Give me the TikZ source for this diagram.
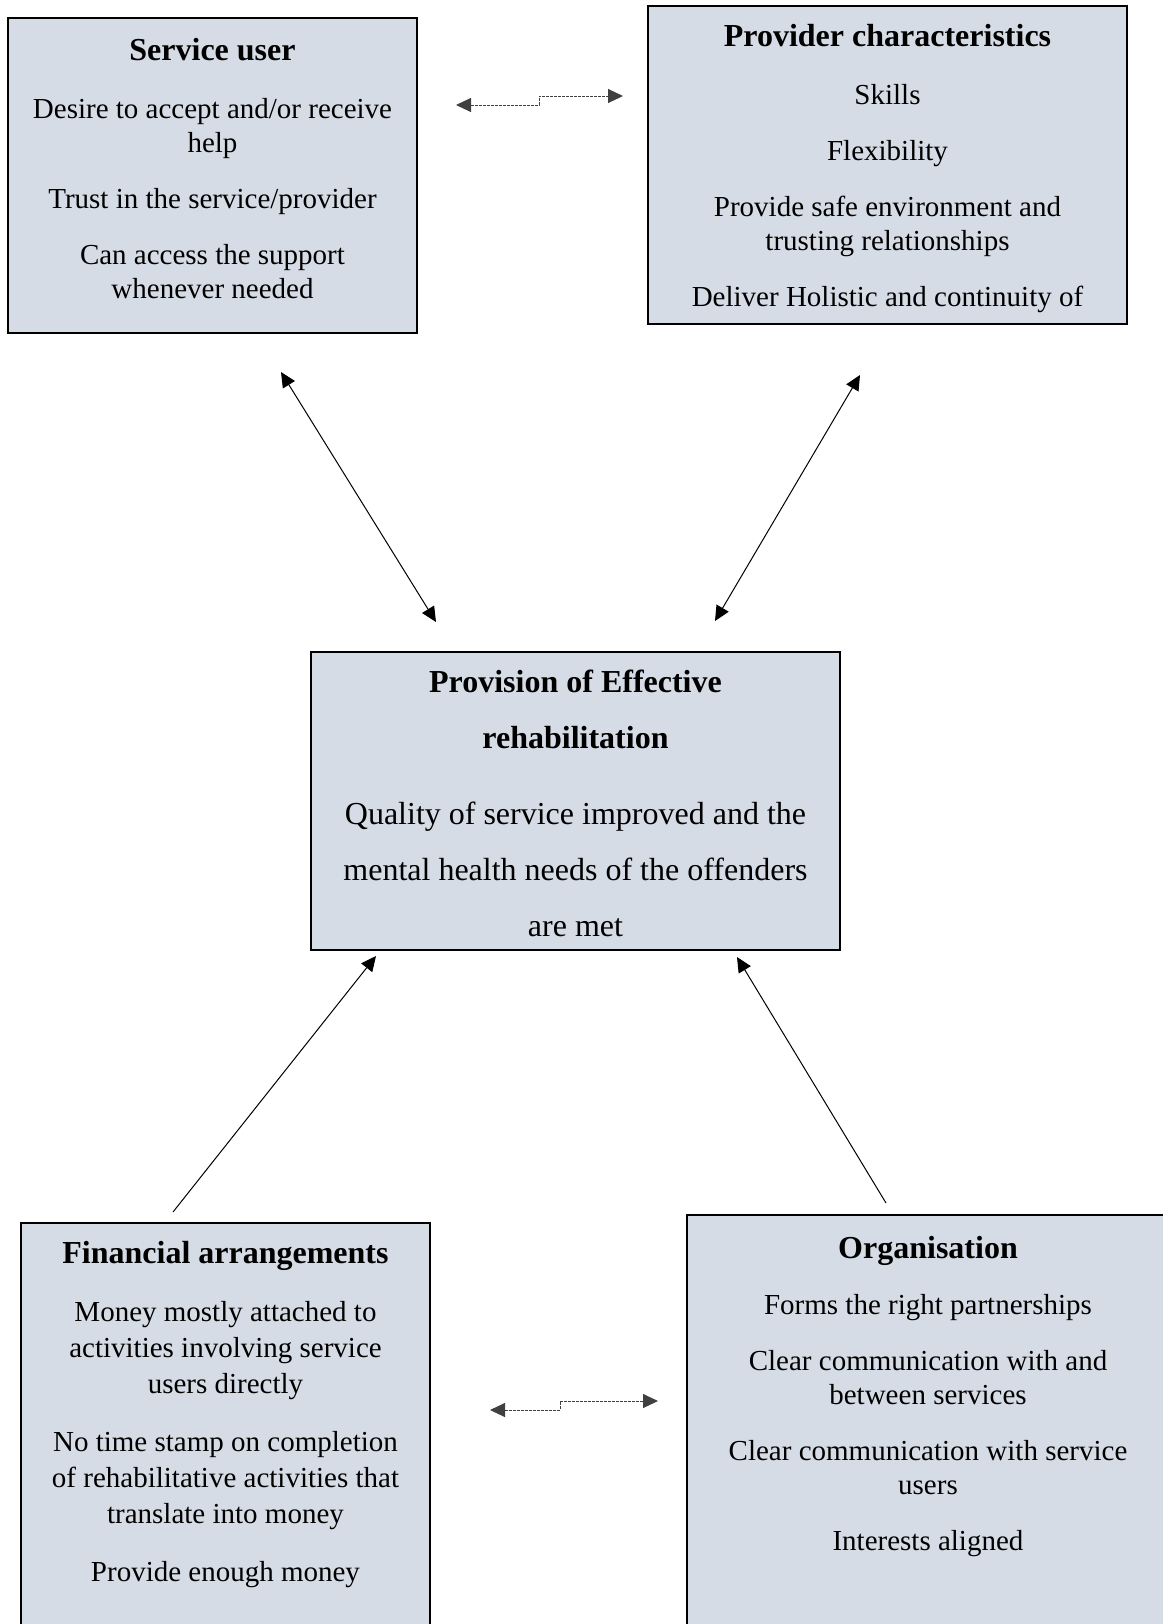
\documentclass[tikz,border=0pt]{standalone}
\usepackage{fontspec}
\setmainfont{Liberation Serif}
\usepackage{xcolor}
\usetikzlibrary{arrows.meta,positioning}
\definecolor{boxfill}{HTML}{D6DCE5}
\newcommand{\boxtitle}[1]{{\fontsize{16}{17}\selectfont\textbf{#1}}}

\begin{document}
\begin{tikzpicture}[x=0.5pt, y=-0.5pt,
    factorbox/.style={rectangle, draw=black, line width=1.2pt, fill=boxfill, inner sep=0pt},
    factortext/.style={align=center, inner sep=0pt, anchor=north, font=\fontsize{14.5}{17}\selectfont},
    link/.style={{Triangle[length=7.5pt,width=7pt]}-{Triangle[length=7.5pt,width=7pt]}, line width=0.5pt},
    flow/.style={-{Triangle[length=7.5pt,width=7pt]}, line width=0.5pt},
    steplink/.style={{Triangle[length=7.5pt,width=7pt]}-{Triangle[length=7.5pt,width=7pt]}, line width=0.5pt, dash pattern=on 1.5pt off 0.5pt, draw=black!75}
]
    \useasboundingbox (0,0) rectangle (1163,1624);
    \clip (0,0) rectangle (1163,1624);

    % factor boxes
    \node[factorbox, minimum width=204.5pt, minimum height=157.5pt] (su) at (212.5,175.5) {};
    \node[factorbox, minimum width=239.5pt, minimum height=159pt] (pc) at (887.5,165) {};
    \node[factorbox, minimum width=264.5pt, minimum height=149pt] (ct) at (575.5,801) {};
    \node[factorbox, minimum width=204.5pt, minimum height=238.5pt] (fa) at (225.5,1461.5) {};
    \node[factorbox, minimum width=241pt, minimum height=242.5pt] (og) at (928,1457.5) {};

    \node[factortext] (su-text) at (212.5,38) {\boxtitle{Service user}\\[12pt]
        Desire to accept and/or receive\\ help\\[11pt]
        Trust in the service/provider\\[11pt]
        Can access the support\\ whenever needed};
    \node[factortext] (pc-text) at (887.5,24) {\boxtitle{Provider characteristics}\\[12pt]
        Skills\\[11pt]
        Flexibility\\[11pt]
        Provide safe environment and\\ trusting relationships\\[11pt]
        Deliver Holistic and continuity of};
    \node[factortext, font=\fontsize{16}{28}\selectfont] (ct-text) at (575.5,670) {\textbf{Provision of Effective}\\
        \textbf{rehabilitation}\\[10pt]
        Quality of service improved and the\\
        mental health needs of the offenders\\
        are met};
    \node[factortext, font=\fontsize{14.5}{18}\selectfont] (fa-text) at (225.5,1241) {\boxtitle{Financial arrangements}\\[11pt]
        Money mostly attached to\\ activities involving service\\ users directly\\[11pt]
        No time stamp on completion\\ of rehabilitative activities that\\ translate into money\\[11pt]
        Provide enough money};
    \node[factortext] (og-text) at (928,1236) {\boxtitle{Organisation}\\[11pt]
        Forms the right partnerships\\[11pt]
        Clear communication with and\\ between services\\[11pt]
        Clear communication with service\\ users\\[11pt]
        Interests aligned};

    % connector ends
    \coordinate (su-e) at (456,105);
    \coordinate (pc-w) at (623,96);
    \coordinate (fa-e) at (490,1410);
    \coordinate (og-w) at (658,1401);
    \coordinate (su-s) at (281,372);
    \coordinate (ct-nw) at (436,622);
    \coordinate (pc-s) at (860,375);
    \coordinate (ct-ne) at (715,621);
    \coordinate (fa-n) at (173,1212);
    \coordinate (ct-sw) at (376,956);
    \coordinate (og-n) at (886,1203);
    \coordinate (ct-se) at (737,957);

    \draw[steplink] (su-e) -- (539,105) |- (pc-w);
    \draw[steplink] (fa-e) -- (560,1410) |- (og-w);
    \draw[link] (su-s) -- (ct-nw);
    \draw[link] (pc-s) -- (ct-ne);
    \draw[flow] (fa-n) -- (ct-sw);
    \draw[flow] (og-n) -- (ct-se);
\end{tikzpicture}
\end{document}
